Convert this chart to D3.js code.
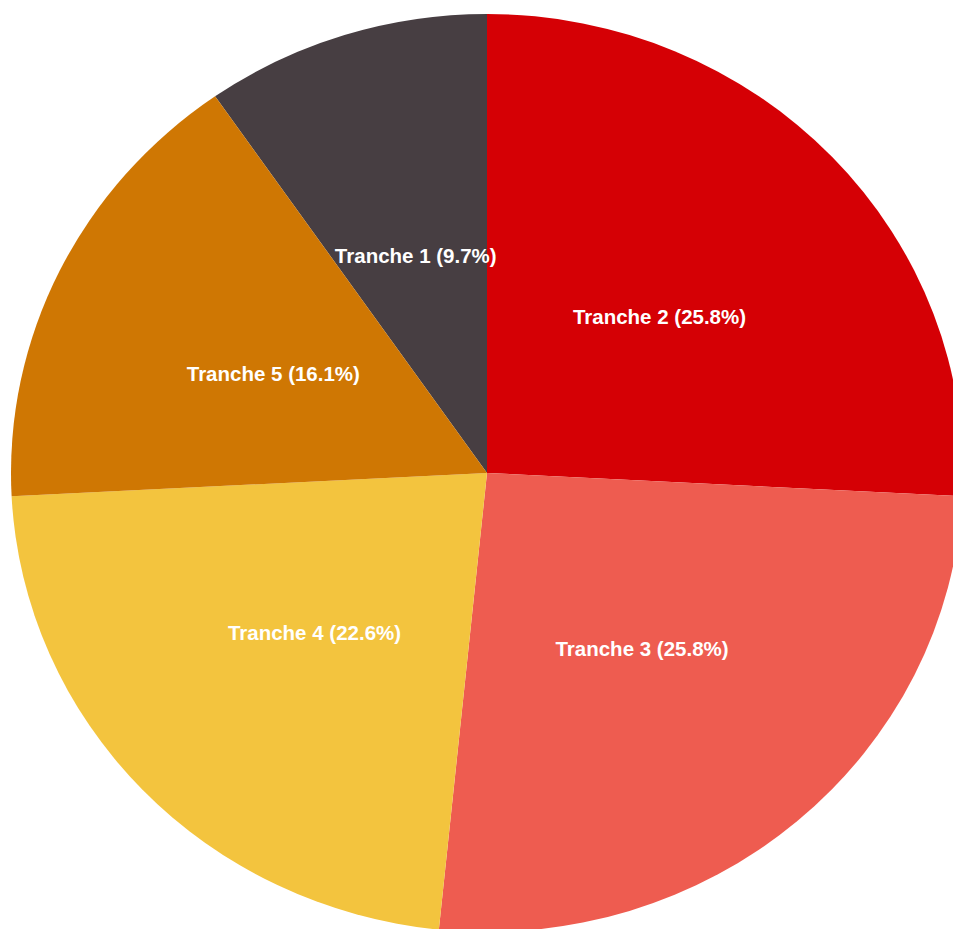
<!DOCTYPE html>
<html>
<head>
<meta charset="utf-8">
<script src="https://cdn.jsdelivr.net/npm/d3@7"></script>
<style>
  body { margin: 0; background: #fff; }
  .slice-label { font-family: "Liberation Sans", Arial, sans-serif; font-weight: bold; font-size: 20.5px; fill: #fff; }
</style>
</head>
<body>
<svg id="chart" width="953" height="929"></svg>
<script>
// data
const tranches = ["Tranche 1", "Tranche 2", "Tranche 3", "Tranche 4", "Tranche 5"];
const counts = [3, 8, 8, 7, 5];
const colors = ["#473e42", "#d50005", "#ee5c50", "#f3c43e", "#cf7703"];

const width = 953;
const height = 929;
const cx = 487, cy = 473;
const radius = 459;
const stretchX = 476 / 459; // reference is slightly wider than tall

const svg = d3.select("#chart");

const data = tranches.map((t, i) => ({ name: t, value: counts[i], color: colors[i] }));
const total = d3.sum(counts);

// default pie sort (descending value) gives the slice order of the original
const pie = d3.pie().value(d => d.value);
const arcs = pie(data);

const arc = d3.arc().innerRadius(0).outerRadius(radius);

const g = svg.append("g")
    .attr("transform", `translate(${cx},${cy})`);

g.append("g")
    .attr("transform", `scale(${stretchX},1)`)
    .selectAll("path")
    .data(arcs)
    .join("path")
    .attr("d", arc)
    .attr("fill", d => d.data.color);

const fmt = d3.format(".1f");

g.selectAll(".slice-label")
    .data(arcs)
    .join("text")
    .attr("class", "slice-label")
    .attr("text-anchor", "middle")
    .attr("dy", "0.45em")
    .attr("x", d => arc.centroid(d)[0] * stretchX)
    .attr("y", d => arc.centroid(d)[1])
    .text(d => `${d.data.name} (${fmt(d.data.value / total * 100)}%)`);
</script>
</body>
</html>
